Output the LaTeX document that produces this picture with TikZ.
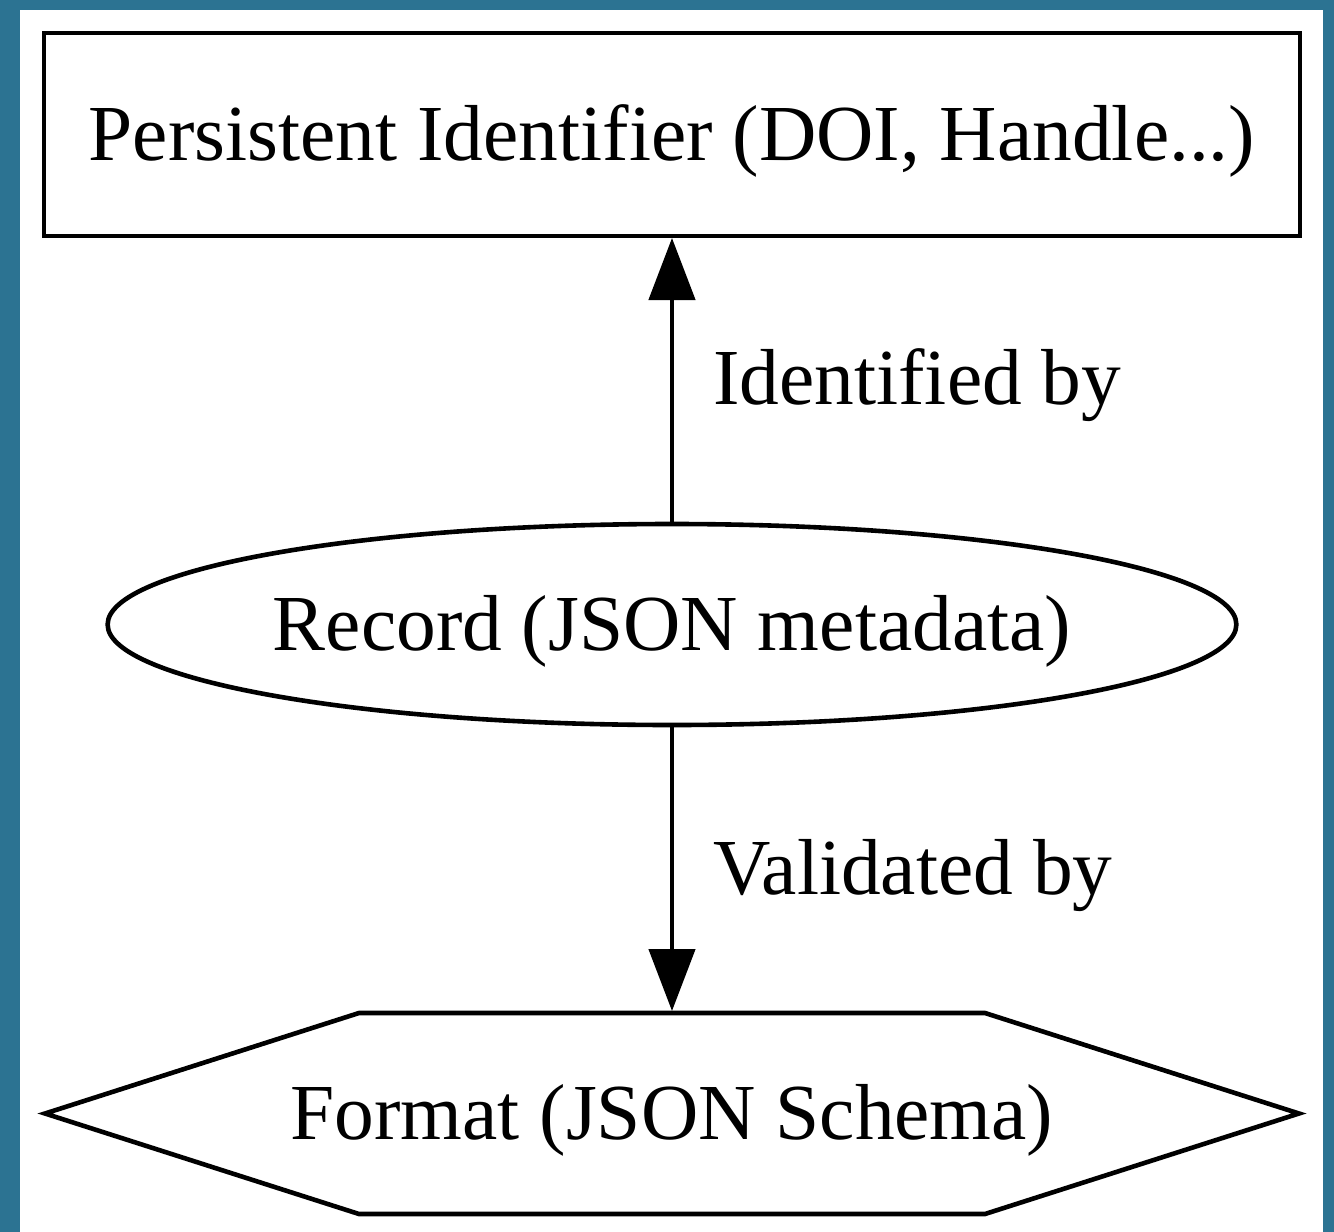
\documentclass[tikz,border=0pt]{standalone}
\usepackage{fontspec}
\setmainfont{Liberation Serif}
\usetikzlibrary{arrows.meta,positioning,shapes.geometric}
\definecolor{frameblue}{RGB}{44,115,146}

\begin{document}
\begin{tikzpicture}[->,>={Triangle[length=31pt,width=23pt]},line width=2.3pt,
    node distance=142pt,
    base node/.style={draw,inner sep=0pt,outer sep=1pt,text height=31.8pt,text depth=5.5pt,
      font=\fontsize{39.7pt}{47pt}\selectfont},
    box node/.style={base node,rectangle,minimum width=628pt,minimum height=101.5pt},
    oval node/.style={base node,ellipse,minimum width=564pt,minimum height=100.5pt},
    hex node/.style={base node,draw=none,outer sep=0pt,minimum width=627pt,minimum height=100.5pt},
    edge label/.style={anchor=base west,inner sep=0pt,xshift=19.5pt,yshift=-12pt,
      font=\fontsize{39.7pt}{47pt}\selectfont}]

    % frame and page
    \fill[frameblue] (-336pt,67.25pt) rectangle (331pt,-548.75pt);
    \fill[white] (-326pt,62.25pt) rectangle (325.5pt,-548.75pt);
    \useasboundingbox (-336pt,67.25pt) rectangle (331pt,-548.75pt);

    \node[box node] (pid) at (0,0) {Persistent Identifier (DOI, Handle...)};
    \node[oval node] (rec) [below=of pid] {Record (JSON metadata)};
    \node[hex node] (fmt) [below=143pt of rec] {Format (JSON Schema)};
    % hexagon outline round the format node
    \draw[-] (fmt.west) -- ++(157pt,50.25pt) -- ++(313pt,0) -- (fmt.east)
      -- ++(-157pt,-50.25pt) -- ++(-313pt,0) -- cycle;

    \path (rec) edge node[edge label] {Identified by} (pid)
          (rec) edge[shorten >=1pt] node[edge label] {Validated by} (fmt);
\end{tikzpicture}
\end{document}
